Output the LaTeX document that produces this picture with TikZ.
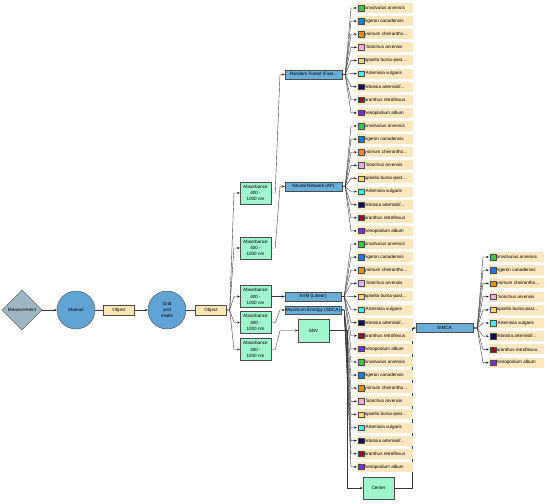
\documentclass[tikz,border=0pt]{standalone}
\usepackage{fontspec}
\setmainfont{Liberation Sans}
\usetikzlibrary{shapes.geometric,arrows.meta}
\newcommand\mytrunc{...}
\definecolor{boxblue}{HTML}{6AAED8}
\definecolor{circblue}{HTML}{5FA4D4}
\definecolor{mint}{HTML}{9FF5CC}
\definecolor{beige}{HTML}{FCE6B4}
\definecolor{beigeb}{HTML}{FDE7BE}
\definecolor{diamondc}{HTML}{9EB6C2}
\definecolor{sgreen}{HTML}{3CC83C}
\definecolor{sblue}{HTML}{1E78F0}
\definecolor{sorange}{HTML}{F08C00}
\definecolor{spink}{HTML}{F5A8E8}
\definecolor{syellow}{HTML}{F8D66A}
\definecolor{scyan}{HTML}{33FFFF}
\definecolor{snavy}{HTML}{0A0A66}
\definecolor{smaroon}{HTML}{A00030}
\definecolor{spurple}{HTML}{7A2FD6}
\begin{document}
\begin{tikzpicture}[x=1pt,y=-1pt,font=\fontsize{4.6}{5.2}\selectfont,
  base/.style={draw=gray!60!black,line width=0.4pt,inner sep=0pt,align=center},
  bluebox/.style={base,fill=boxblue,minimum width=57pt,minimum height=9pt},
  greenbox/.style={base,fill=mint,minimum width=31pt,minimum height=22pt},
  objbox/.style={base,fill=beige,minimum width=31pt,minimum height=10pt},
  circ/.style={base,circle,fill=circblue,minimum size=38pt},
  itembox/.style={fill=beigeb,minimum width=56pt,minimum height=10pt,inner sep=0pt},
  sqbox/.style={draw=black!70,line width=0.3pt,minimum size=5.5pt,inner sep=0pt},
  lbl/.style={anchor=west,inner sep=0pt},
  con/.style={draw=gray!45!black,line width=0.4pt},
  arr/.style={con,-{Stealth[length=2.6pt,width=2pt,color=black]}}
]
\useasboundingbox (0,0) rectangle (550,504);

% left chain
\node[base,diamond,fill=diamondc,minimum width=40pt,minimum height=40pt] (meas) at (22,310) {Measurement};
\node[circ] (manual) at (76,310) {Manual};
\node[objbox] (obj1) at (119,310) {Object};
\node[circ] (grid) at (167,310) {Grid\\[1pt]and\\[1pt]insets};
\node[objbox] (obj2) at (211,310) {Object};

\draw[arr] (meas) -- (manual);
\draw[con] (manual) -- (obj1);
\draw[arr] (obj1) -- (grid);
\draw[con] (grid) -- (obj2);

% absorbance boxes
\foreach \n/\y in {1/193,2/248,3/296.5,4/322.5,5/349.5}{
  \node[greenbox] (abs\n) at (255.5,\y) {Absorbance\\[1pt]400 -\\[1pt]1000 nm};
  \draw[arr] (obj2.east) -- ++(3,0) -- (234,\y) -- (abs\n.west);
}

% classifiers
\node[bluebox] (rf) at (313.5,74.5) {Random Forest (Fast\mytrunc};
\node[bluebox] (nn) at (313.5,186.5) {Neural Network (AP)};
\node[bluebox,minimum width=56pt] (svm) at (313,296.5) {SVM (Linear)};
\node[bluebox,minimum width=56pt,minimum height=8.5pt] (me) at (313,310) {Maximum Entropy (SDCA)};
\node[greenbox,minimum height=23pt] (snv) at (313.5,330.5) {SNV};
\node[greenbox] (center) at (378.5,488) {Center};
\node[bluebox] (simca) at (444.5,328) {SIMCA};

\foreach \a/\b in {abs1/rf,abs2/nn,abs3/svm,abs4/me,abs5/snv}{
  \draw[arr] (\a.east) -- ++(4,0) -- (280,0 |- \b.west) -- (\b.west);
}
\draw[arr] (snv.east) -- (347,330.5) -- (347,488) -- (center.west);
\draw[arr] (center.east) -- (412,488) -- (412,328) -- (simca.west);

% species lists
\foreach \c/\t [count=\i from 0] in {sgreen/onvolvulus arvensis,sblue/rigeron canadensis,sorange/ysimum cheirantho\mytrunc,spink/\hspace{1.5pt}Sonchus arvensis,syellow/apsella bursa-past\mytrunc,scyan/\hspace{1pt}Artemisia vulgaris,snavy/mbrosia artemisiif\mytrunc,smaroon/aranthus retroflexus,spurple/henopodium album}{
  \foreach \L/\p in {0/rf,1/nn,2/svm,3/me}{
    \pgfmathsetmacro\yy{8+13.11*(\L*9+\i)}
    \node[itembox] (it\L-\i) at (385,\yy) {};
    \node[sqbox,fill=\c] (sq\L-\i) at (361,\yy) {};
    \node[lbl] (tx\L-\i) at (364.5,\yy) {\t};
    \draw[arr] (\p.east) -- ++(3,0) -- (351,\yy) -- (it\L-\i.west);
  }
  \pgfmathsetmacro\ys{257+13.2*\i}
  \node[itembox,minimum width=55pt] (is-\i) at (516.5,\ys) {};
  \node[sqbox,fill=\c] (ss-\i) at (493,\ys) {};
  \node[lbl] (ts-\i) at (496.5,\ys) {\t};
  \draw[arr] (simca.east) -- ++(4,0) -- (483,\ys) -- (is-\i.west);
}
\end{tikzpicture}
\end{document}
